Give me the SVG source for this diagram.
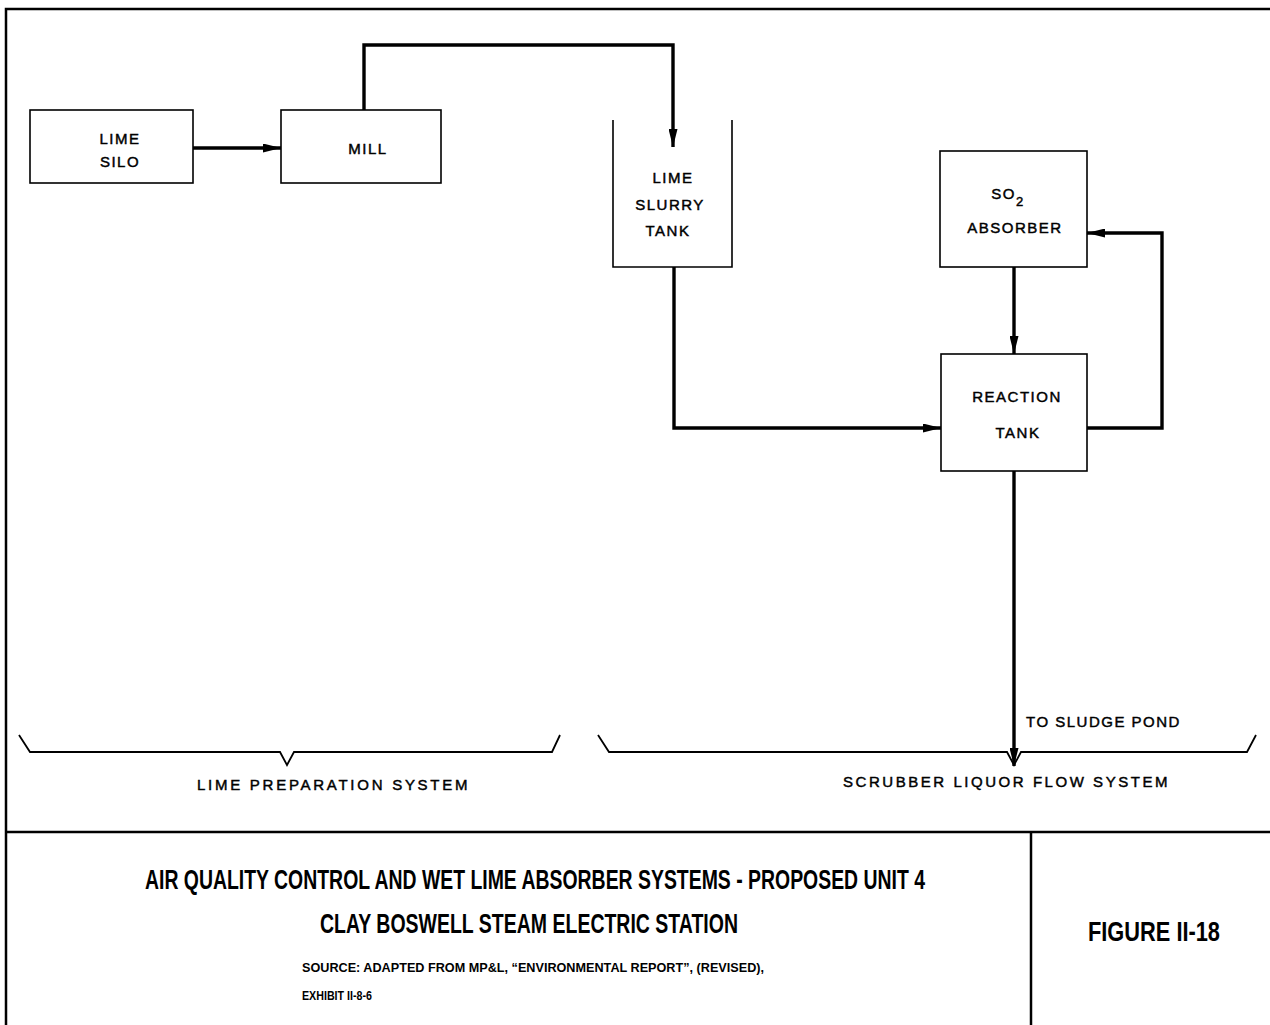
<svg xmlns="http://www.w3.org/2000/svg" width="1270" height="1025" viewBox="0 0 1270 1025">
<style>
.frame{fill:none;stroke:#000;stroke-width:2.5}
.box{fill:none;stroke:#000;stroke-width:1.6}
.flow{fill:none;stroke:#000;stroke-width:3.4;stroke-linejoin:miter}
.brace{fill:none;stroke:#000;stroke-width:1.8}
.lbl{font-family:"Liberation Sans","DejaVu Sans",sans-serif;font-size:15px;fill:#000;stroke:#000;stroke-width:0.45;text-anchor:middle;letter-spacing:1.5px}
.ttl{font-family:"Liberation Sans","DejaVu Sans",sans-serif;font-weight:bold;fill:#000}
</style>
<defs>
<marker id="ah" viewBox="0 0 18 9" refX="18" refY="4.5" markerWidth="18" markerHeight="9" markerUnits="userSpaceOnUse" orient="auto">
<path d="M0,0 L18,4.5 L0,9 Z" fill="#000"/>
</marker>
</defs>
<rect width="1270" height="1025" fill="#fff"/>
<g id="frame">
<path class="frame" d="M6,1025 V9 H1270"/>
<path class="frame" d="M6,832 H1270"/>
<path class="frame" d="M1031,832 V1025"/>
</g>
<g id="connectors">
<path class="flow" d="M193,148 H281" marker-end="url(#ah)"/>
<path class="flow" d="M364,110 V45 H673 V147" marker-end="url(#ah)"/>
<path class="flow" d="M674,267 V428 H941" marker-end="url(#ah)"/>
<path class="flow" d="M1014,267 V354" marker-end="url(#ah)"/>
<path class="flow" d="M1087,428 H1162 V233 H1087" marker-end="url(#ah)"/>
<path class="flow" d="M1014,471 V766" marker-end="url(#ah)"/>
</g>
<g id="lime-silo">
<rect class="box" x="30" y="110" width="163" height="73"/>
<text class="lbl" x="120" y="144">LIME</text>
<text class="lbl" x="120" y="167">SILO</text>
</g>
<g id="mill">
<rect class="box" x="281" y="110" width="160" height="73"/>
<text class="lbl" x="368" y="154">MILL</text>
</g>
<g id="lime-slurry-tank">
<path class="box" d="M613,120 V267 H732 V120"/>
<text class="lbl" x="673" y="183">LIME</text>
<text class="lbl" x="670" y="210">SLURRY</text>
<text class="lbl" x="668" y="236">TANK</text>
</g>
<g id="so2-absorber">
<rect class="box" x="940" y="151" width="147" height="116"/>
<text class="lbl" x="1008" y="199">SO<tspan font-size="13" dy="7">2</tspan></text>
<text class="lbl" x="1015" y="233">ABSORBER</text>
</g>
<g id="reaction-tank">
<rect class="box" x="941" y="354" width="146" height="117"/>
<text class="lbl" x="1017" y="402">REACTION</text>
<text class="lbl" x="1018" y="438">TANK</text>
</g>
<g id="sludge-label">
<text class="lbl" x="1026" y="727" style="text-anchor:start">TO SLUDGE POND</text>
</g>
<g id="braces">
<path class="brace" d="M19,735 L30,752 H280 L287,765 L294,752 H552 L560,735"/>
<path class="brace" d="M598,735 L609,752 H1007 L1014,765 L1021,752 H1247 L1256,735"/>
<text class="lbl" x="333" y="790" textLength="272" lengthAdjust="spacing">LIME PREPARATION SYSTEM</text>
<text class="lbl" x="1006" y="787" textLength="326" lengthAdjust="spacing">SCRUBBER LIQUOR FLOW SYSTEM</text>
</g>
<g id="title-block">
<text class="ttl" x="145" y="889" font-size="27" textLength="780" lengthAdjust="spacingAndGlyphs">AIR QUALITY CONTROL AND WET LIME ABSORBER  SYSTEMS - PROPOSED UNIT 4</text>
<text class="ttl" x="320" y="933" font-size="27" textLength="418" lengthAdjust="spacingAndGlyphs">CLAY BOSWELL STEAM ELECTRIC STATION</text>
<text class="ttl" x="302" y="972" font-size="13" textLength="462" lengthAdjust="spacingAndGlyphs">SOURCE: ADAPTED FROM MP&amp;L, “ENVIRONMENTAL REPORT”, (REVISED),</text>
<text class="ttl" x="302" y="1000" font-size="13" textLength="70" lengthAdjust="spacingAndGlyphs">EXHIBIT II-8-6</text>
<text class="ttl" x="1088" y="941" font-size="28" textLength="132" lengthAdjust="spacingAndGlyphs">FIGURE II-18</text>
</g>
</svg>
